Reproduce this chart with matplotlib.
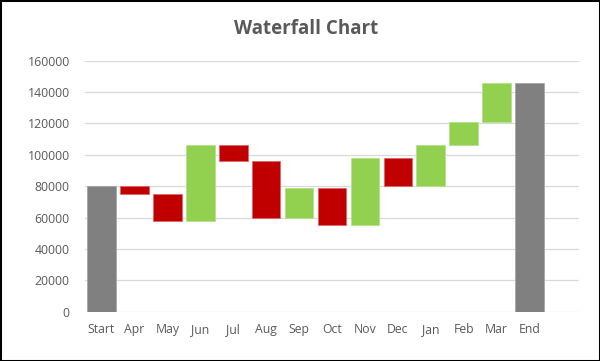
import matplotlib
matplotlib.use("Agg")
import matplotlib.pyplot as plt
from matplotlib.patches import Rectangle
import numpy as np

categories = ["Start", "Apr", "May", "Jun", "Jul", "Aug", "Sep", "Oct",
              "Nov", "Dec", "Jan", "Feb", "Mar", "End"]
start_value = 80000
changes = [-5000, -17000, 48000, -10000, -36000, 19000, -24000,
           43000, -18000, 26000, 15000, 25000]
yticks = [0, 20000, 40000, 60000, 80000, 100000, 120000, 140000, 160000]

RED = "#C00000"
GREEN = "#92D050"
GRAY = "#808080"
TEXT = "#595959"
FONT = ["Open Sans", "DejaVu Sans"]

plt.rcParams["font.family"] = FONT

fig = plt.figure(figsize=(6.0, 3.61), dpi=100)
ax = fig.add_axes([85/600, 1 - 311.7/361, (579-85)/600, (311.7-60.7)/361])

width = 0.87
x = np.arange(len(categories))

# start total
ax.bar(x[0], start_value, width=width, color=GRAY, edgecolor="#A6A6A6", linewidth=0.6, zorder=3)
level = start_value
for i, d in enumerate(changes, start=1):
    bottom = level if d >= 0 else level + d
    col = GREEN if d >= 0 else RED
    edge = "#B5E08A" if d >= 0 else "#E06666"
    ax.bar(x[i], abs(d), bottom=bottom, width=width, color=col,
           edgecolor=edge, linewidth=0.6, zorder=3)
    level += d
ax.bar(x[-1], level, width=width, color=GRAY, edgecolor="#A6A6A6", linewidth=0.6, zorder=3)

ax.set_xlim(-0.5, 14.5)
ax.set_ylim(0, 160000)
ax.set_yticks(yticks)
ax.set_yticklabels([str(v) for v in yticks])
ax.set_xticks(x)
ax.set_xticklabels(categories)
ax.tick_params(axis="both", length=0, labelsize=8.8, labelcolor=TEXT)
ax.tick_params(axis="y", pad=11)
ax.tick_params(axis="x", pad=8)
for s in ax.spines.values():
    s.set_visible(False)
ax.yaxis.grid(True, color="#D9D9D9", linewidth=0.9, zorder=0)
ax.set_axisbelow(True)

fig.text(306.5/600, 1 - 28.5/361, "Waterfall Chart", ha="center", va="center",
         fontsize=13.5, fontweight="bold", color=TEXT)

fig.patches.append(Rectangle((0, 0), 1, 1, transform=fig.transFigure,
                             fill=False, edgecolor="black", linewidth=2.2))

fig.savefig("out.png", dpi=100)
